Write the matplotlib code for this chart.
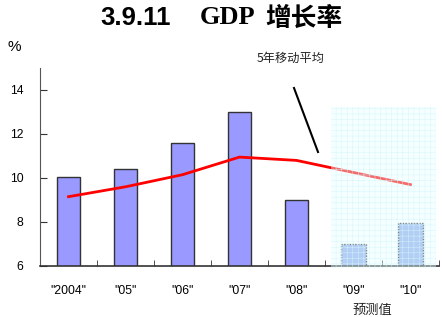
import numpy as np
import matplotlib.pyplot as plt
from matplotlib.patches import Rectangle

years = ['"2004"', '"05"', '"06"', '"07"', '"08"', '"09"', '"10"']
growth = [10.05, 10.4, 11.6, 13.0, 9.0, 7.0, 7.95]
moving_avg = [9.15, 9.6, 10.15, 10.95, 10.8, 10.25, 9.7]
n_actual = 5  # bars 2004-08 are actual, the rest forecast

cjk = ['Noto Sans CJK SC', 'DejaVu Sans']
plt.rcParams['hatch.linewidth'] = 0.4

fig = plt.figure(figsize=(4.42, 3.17), dpi=100)
ax = fig.add_axes([40 / 442, 51 / 317, 399 / 442, 198 / 317])

x = np.arange(len(years))
ax.bar(x[:n_actual], growth[:n_actual], width=0.41,
       color='#9999ff', edgecolor='#333333', linewidth=1.0, zorder=2)
ax.bar(x[n_actual:], growth[n_actual:], width=0.43,
       color='#8eacef', edgecolor='#333333', linewidth=1.0,
       linestyle=(0, (1, 1)), zorder=2)
ax.plot(x, moving_avg, color='#ff0000', linewidth=2, zorder=3)

# forecast shading (lightens what is under it)
shade = Rectangle((4.6, 5.9), 1.85, 7.33, facecolor='#e8ffff', alpha=0.42,
                  edgecolor='none', zorder=4, clip_on=False)
ax.add_patch(shade)
grid = Rectangle((4.6, 5.9), 1.85, 7.33, facecolor='none', hatch='+++',
                 edgecolor='#d2f6fa', linewidth=0, alpha=0.8, zorder=4,
                 clip_on=False)
ax.add_patch(grid)

ax.set_xlim(-0.5, 6.5)
ax.set_ylim(6, 15)
ax.set_yticks([6, 8, 10, 12, 14])
ax.set_xticks(x)
ax.set_xticklabels(years, fontsize=8.7, family='Liberation Sans')
ax.set_xticks(np.arange(0.5, 7, 1), minor=True)
ax.tick_params(axis='x', which='major', length=0, pad=14)
ax.tick_params(axis='x', which='minor', direction='in', length=4,
               color='#333333')
ax.tick_params(axis='y', direction='in', length=5, color='#333333',
               labelsize=8.7, pad=12)
for lab in ax.get_yticklabels():
    lab.set_family('Liberation Sans')

for s in ['top', 'right']:
    ax.spines[s].set_visible(False)
ax.spines['left'].set_color('#555555')
ax.spines['bottom'].set_color('#333333')
ax.spines['bottom'].set_linewidth(1.2)

# title in mixed fonts
fig.text(100 / 442, 1 - 18 / 317, '3.9.11', fontsize=18.5, fontweight='bold',
         family='Liberation Sans', va='center', ha='left')
fig.text(200 / 442, 1 - 18 / 317, 'GDP', fontsize=19, fontweight='bold',
         family='Liberation Serif', va='center', ha='left')
fig.text(265 / 442, 1 - 18 / 317, '增长率', fontsize=18.5, fontweight='bold',
         family=cjk, va='center', ha='left')

fig.text(8 / 442, 1 - 47 / 317, '%', fontsize=11, family='Liberation Sans',
         va='center', ha='left')
fig.text(291 / 442, 1 - 58 / 317, '5年移动平均', fontsize=8.8, family=cjk,
         color='#222222', va='center', ha='center')
fig.text(372 / 442, 1 - 310 / 317, '预测值', fontsize=9.5, family=cjk,
         color='#222222', va='center', ha='center')

# pointer to the moving average line
fig.add_artist(plt.Line2D([294 / 442, 318 / 442], [1 - 88 / 317, 1 - 152 / 317],
                          color='black', linewidth=1.5))

fig.savefig('out.png', dpi=100)
